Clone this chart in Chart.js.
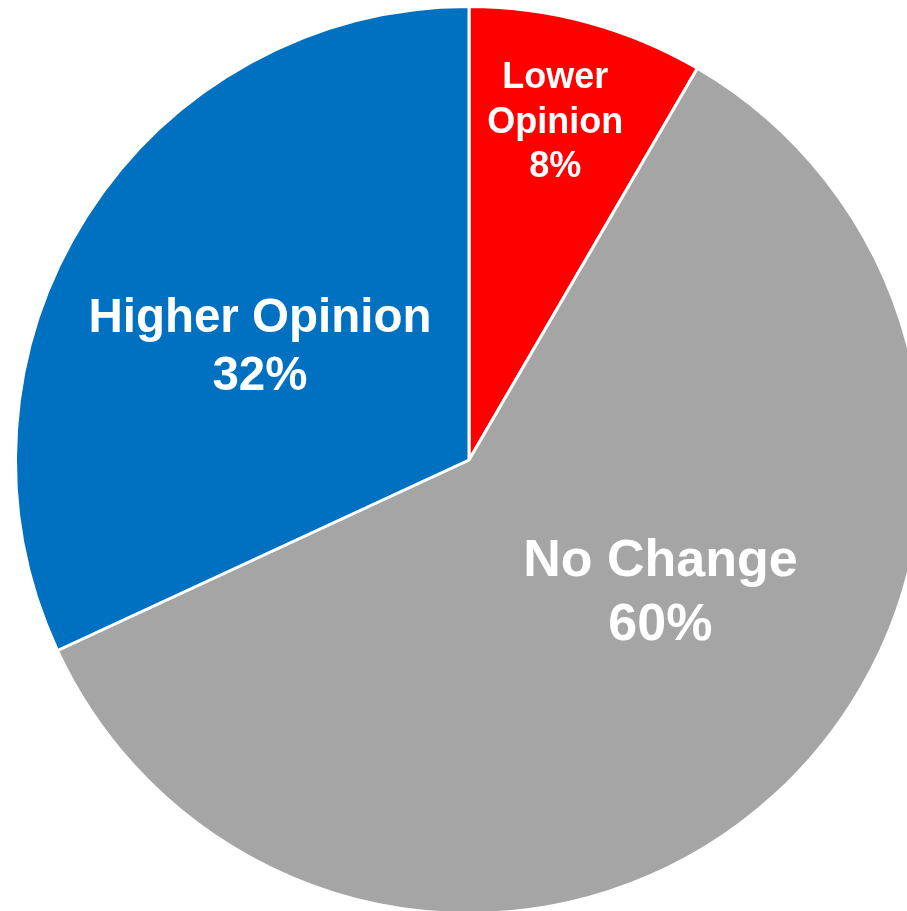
<!DOCTYPE html>
<html>
<head>
<meta charset="utf-8">
<script src="https://cdn.jsdelivr.net/npm/chart.js@4"></script>
<style>
  html, body { margin: 0; padding: 0; background: #fff; overflow: hidden; }
  canvas { position: absolute; left: 0; top: 0; }
</style>
</head>
<body>
<canvas id="pie" width="940" height="920"></canvas>
<script>
const labels = ["Lower Opinion", "No Change", "Higher Opinion"];
const values = [8.4, 59.7, 31.9];
const colors = ["#FF0000", "#A5A5A5", "#0070C0"];

// label text lines, sizes and placement (in units of pie radius from the centre)
const labelLines = [["Lower", "Opinion", "8%"], ["No Change", "60%"], ["Higher Opinion", "32%"]];
const labelFont = [36, 52, 47.5];
const labelOffset = [[0.19, -0.75], [0.422, 0.285], [-0.461, -0.256]];

const sliceLabels = {
  id: "sliceLabels",
  afterDatasetsDraw(chart) {
    const ctx = chart.ctx;
    const meta = chart.getDatasetMeta(0);
    meta.data.forEach((arc, i) => {
      const r = arc.outerRadius;
      const cx = arc.x + labelOffset[i][0] * r;
      const cy = arc.y + labelOffset[i][1] * r;
      const size = labelFont[i];
      const lh = size * 1.23;
      const cap = size * 0.716;
      const lines = labelLines[i];
      let y = cy - ((lines.length - 1) * lh - cap) / 2;
      ctx.save();
      ctx.fillStyle = "#fff";
      ctx.font = "bold " + size + "px 'Liberation Sans', Arial, sans-serif";
      ctx.textAlign = "center";
      ctx.textBaseline = "alphabetic";
      lines.forEach((t) => {
        ctx.fillText(t, cx, y);
        y += lh;
      });
      ctx.restore();
    });
  },
};

new Chart(document.getElementById("pie"), {
  type: "pie",
  data: {
    labels: labels,
    datasets: [
      {
        data: values,
        backgroundColor: colors,
        borderColor: "#fff",
        borderWidth: 3,
      },
    ],
  },
  options: {
    responsive: false,
    animation: false,
    layout: { padding: { left: 14, top: 5, right: 16, bottom: 5 } },
    plugins: {
      legend: { display: false },
      tooltip: { enabled: false },
    },
  },
  plugins: [sliceLabels],
});
</script>
</body>
</html>
